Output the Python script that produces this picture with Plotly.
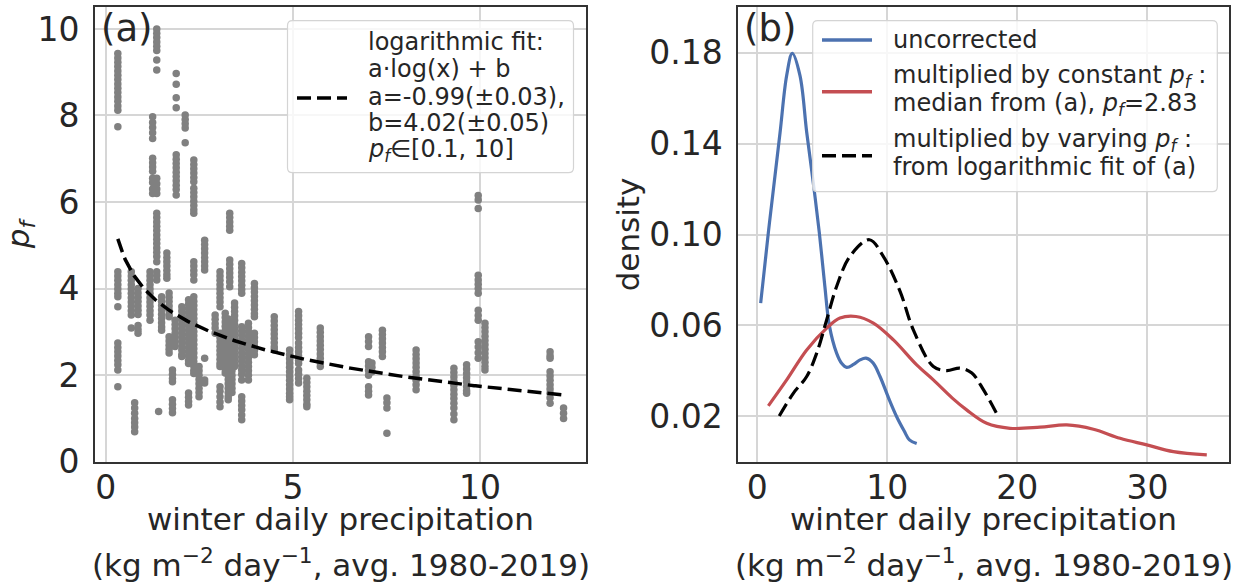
import numpy as np
import plotly.graph_objects as go

W, H = 1241, 585
FONT = "DejaVu Sans"
TXT = "#262626"

# ---- panel (a): precipitation correction factor per station column ----
column_x = [0.32, 0.68, 0.77, 0.86, 1.18, 1.25, 1.36, 1.41, 1.49, 1.63, 1.69, 1.78,
            1.85, 1.88, 2.03, 2.12, 2.21, 2.35, 2.49, 2.64, 2.92, 3.05, 3.19, 3.27,
            3.31, 3.37, 3.44, 3.63, 3.81, 3.97, 4.50, 4.91, 5.15, 5.37, 5.73, 7.02,
            7.11, 7.39, 7.51, 8.29, 9.30, 9.64, 9.95, 10.13, 11.87, 12.23]

column_pf = [
    [9.43, 9.33, 9.23, 9.13, 9.03, 8.93, 8.83, 8.73, 8.63, 8.53, 8.43, 8.33, 8.22, 8.12, 7.74,
     4.39, 4.29, 4.19, 4.09, 3.99, 3.89, 3.81, 3.58, 2.74, 2.64, 2.54, 2.44, 2.34, 2.24, 2.12, 1.73],
    [4.39, 4.29, 4.19, 4.09, 3.99, 3.89, 3.79, 3.69, 3.59, 3.49, 3.39, 3.09],
    [1.36, 1.24, 1.12, 1.0, 0.9, 0.8, 0.69],
    [4.0, 3.9, 3.8, 3.7, 3.6, 3.5, 3.4, 3.15, 3.05, 2.97],
    [4.39, 4.29, 4.19, 4.09, 3.99, 3.89, 3.79, 3.69, 3.59, 3.49, 3.39, 3.27],
    [7.97, 7.84, 7.72, 7.6, 7.47, 7.01, 6.91, 6.81, 6.71, 6.55, 6.45, 6.3, 6.2],
    [10.0, 9.9, 9.8, 9.7, 9.6, 9.5, 9.28, 9.05, 6.55, 6.42, 6.3, 6.2, 5.74, 5.64, 5.54, 5.44,
     5.34, 5.24, 5.14, 5.04, 4.94, 4.84, 4.74, 4.62, 4.39, 4.3, 4.2],
    [1.16],
    [3.81, 3.71, 3.61, 3.51, 3.41, 3.31, 3.21, 3.11, 3.04],
    [4.82, 4.72, 4.62, 4.52, 4.42, 4.32, 4.24],
    [3.9, 3.8, 3.7, 3.6, 3.5, 3.4, 3.35, 2.89, 2.79, 2.69, 2.6, 2.51],
    [2.12, 2.02, 1.92, 1.85, 1.43, 1.33, 1.23, 1.13],
    [3.27, 3.17, 3.07, 2.97, 2.87, 2.77, 2.66],
    [8.97, 8.72, 8.41, 8.18, 7.09, 6.99, 6.89, 6.79, 6.69, 6.59, 6.49, 6.39, 6.29, 6.16],
    [3.58, 3.48, 3.38, 3.28, 3.18, 3.08, 2.98, 2.88, 2.78, 2.68, 2.58, 2.48, 2.43],
    [8.01, 7.91, 7.81, 7.71, 7.37],
    [3.74, 3.64, 3.54, 3.44, 3.34, 3.24, 3.14, 3.04, 2.94, 2.84, 2.74, 2.64, 2.54, 2.44, 2.34,
     2.27, 1.59, 1.49, 1.39, 1.31],
    [6.97, 6.87, 6.77, 6.67, 6.57, 6.47, 6.32, 6.22, 6.12, 6.02, 5.92, 5.82, 5.74, 4.62, 4.52,
     4.42, 4.32, 4.2, 3.81, 3.71, 3.61, 3.51, 3.41, 3.31, 3.21, 3.11, 3.01, 2.91, 2.81, 2.71,
     2.61, 2.51, 2.41, 2.31, 2.21, 2.11, 2.04],
    [2.2, 2.1, 2.0, 1.9, 1.8, 1.7, 1.6, 1.5],
    [5.12, 5.02, 4.92, 4.82, 4.72, 4.62, 4.52, 4.43, 2.39, 1.89, 1.82],
    [3.39, 3.29, 3.19, 3.09, 2.97],
    [4.39, 4.29, 4.19, 4.09, 3.99, 3.89, 3.79, 3.69, 3.58, 2.97, 2.87, 2.77, 2.67, 2.57, 2.47,
     2.37, 2.27, 2.2, 1.73, 1.63, 1.5, 1.38, 1.27],
    [3.43, 3.33, 3.23, 3.13, 3.03, 2.93, 2.83, 2.73, 2.63, 2.53, 2.43, 2.33, 2.23, 2.13, 2.05],
    [3.3, 3.2, 3.1, 3.0, 2.9, 2.8, 2.7, 2.6, 2.5, 2.4, 2.3, 2.2, 2.1, 2.0, 1.9, 1.8, 1.7, 1.6,
     1.5, 1.43],
    [5.74, 5.64, 5.54, 5.44, 5.35, 4.66, 4.56, 4.46, 4.36, 4.26, 4.16, 4.04],
    [3.2, 3.1, 3.0, 2.9, 2.8, 2.7, 2.6, 2.5, 2.4, 2.3, 2.2, 2.1, 2.0, 1.9, 1.8, 1.7, 1.6],
    [3.67, 3.57, 3.47, 3.37, 3.27, 3.17, 3.07, 2.97, 2.87, 2.77, 2.67, 2.57, 2.47, 2.37, 2.27, 2.2],
    [4.58, 4.48, 4.38, 4.28, 4.18, 4.08, 3.98, 3.89, 3.12, 3.02, 2.92, 2.82, 2.72, 2.62, 2.52,
     2.42, 2.32, 2.22, 2.12, 2.02, 1.89, 1.5, 1.4, 1.3, 1.2, 1.08, 0.97],
    [3.2, 3.1, 3.0, 2.9, 2.8, 2.7, 2.6, 2.5, 2.4, 2.3, 2.2, 2.1, 2.0, 1.89],
    [4.12, 4.02, 3.92, 3.82, 3.72, 3.62, 3.52, 3.42, 3.35, 2.97, 2.87, 2.77, 2.67, 2.57, 2.47],
    [3.35, 3.25, 3.15, 3.05, 2.95, 2.85, 2.75, 2.65, 2.58],
    [2.58, 2.48, 2.38, 2.28, 2.18, 2.08, 1.98, 1.88, 1.78, 1.68, 1.58, 1.5, 1.43],
    [3.47, 3.37, 3.27, 3.17, 3.07, 2.97, 2.87, 2.74, 2.64, 2.54, 2.44, 2.34, 2.27, 2.12, 2.02,
     1.92, 1.82],
    [1.93, 1.83, 1.73, 1.63, 1.53, 1.43, 1.33, 1.27],
    [3.09, 2.99, 2.89, 2.79, 2.69, 2.59, 2.49, 2.39, 2.29, 2.2],
    [2.89, 2.78, 2.66, 2.31, 2.21, 2.11, 2.0, 1.73, 1.63, 1.54],
    [2.28, 2.18, 2.08],
    [3.04, 2.94, 2.84, 2.74, 2.64, 2.54, 2.43],
    [1.47, 1.36, 1.24, 0.66],
    [2.58, 2.48, 2.38, 2.28, 2.18, 2.08, 1.98, 1.88, 1.78, 1.66],
    [2.16, 2.06, 1.96, 1.86, 1.76, 1.66, 1.56, 1.46, 1.35, 1.24, 1.1, 0.97],
    [2.24, 2.14, 2.04, 1.94, 1.84, 1.74, 1.64, 1.58],
    [6.15, 6.05, 5.85, 4.31, 4.2, 4.1, 4.0, 3.89, 3.5, 3.38, 3.27, 2.77, 2.65, 2.52, 2.39],
    [3.2, 3.1, 3.0, 2.9, 2.8, 2.7, 2.6, 2.5, 2.4, 2.3, 2.2, 2.12],
    [2.54, 2.45, 2.39, 2.08, 1.98, 1.88, 1.78, 1.68, 1.58, 1.48, 1.35],
    [1.24, 1.12, 1.0],
]

# logarithmic fit coefficients stated in the legend
fit_a, fit_b = -0.99, 4.02

# ---- panel (b): kernel density curves ----
unc_x = [0.26, 0.55, 0.85, 1.2, 1.75, 2.26, 2.69, 3.28, 3.8, 4.3, 4.77, 5.2, 5.54, 6.1,
         6.5, 6.88, 7.4, 7.9, 8.36, 8.9, 9.44, 10.1, 10.72, 11.3, 11.7, 12.26]
unc_y = [0.0698, 0.085, 0.1008, 0.118, 0.1448, 0.170, 0.1797, 0.170, 0.145, 0.123, 0.1008,
         0.077, 0.060, 0.0478, 0.0432, 0.0415, 0.0428, 0.0448, 0.0456, 0.0435, 0.0375, 0.028,
         0.0198, 0.0135, 0.0096, 0.008]

const_x = [0.85, 2.26, 3.8, 5.34, 6.36, 7.59, 8.93, 10.47, 12.26, 13.54, 15.0, 16.1, 17.64,
           19.44, 21.75, 23.8, 25.85, 27.9, 29.95, 32.0, 34.57]
const_y = [0.0246, 0.036, 0.0492, 0.0588, 0.0632, 0.0639, 0.061, 0.0536, 0.0426, 0.036,
           0.028, 0.0228, 0.0169, 0.0147, 0.0152, 0.0162, 0.0143, 0.0103, 0.0074, 0.0044, 0.003]

vary_x = [1.69, 2.77, 3.8, 4.57, 5.34, 6.1, 7.13, 8.62, 9.69, 10.98, 12.0, 13.54, 14.57,
          15.6, 16.5, 17.4, 18.6]
vary_y = [0.0201, 0.0301, 0.0375, 0.0478, 0.0625, 0.0771, 0.0904, 0.0977, 0.0904, 0.0750,
          0.058, 0.0419, 0.0401, 0.0412, 0.039, 0.0316, 0.0191]

BLUE, RED = "#4C72B0", "#C44E52"
DASH = "14px,6px"

fig = go.Figure()

# scatter of correction factors
px_all, pf_all = [], []
for xv, ys in zip(column_x, column_pf):
    px_all += [xv] * len(ys)
    pf_all += ys
fig.add_trace(go.Scatter(x=px_all, y=pf_all, mode="markers",
                         marker=dict(size=7.5, color="#808080", line=dict(width=0)),
                         xaxis="x", yaxis="y", showlegend=False))

# fit curve a*log(x)+b over the data range
fx = np.linspace(min(column_x), max(column_x), 300)
fig.add_trace(go.Scatter(x=fx, y=fit_a * np.log(fx) + fit_b, mode="lines",
                         line=dict(color="black", width=3.5, dash=DASH),
                         xaxis="x", yaxis="y", showlegend=False))

# density curves
for xs, ys, col, dash in [(unc_x, unc_y, BLUE, "solid"),
                          (const_x, const_y, RED, "solid"),
                          (vary_x, vary_y, "black", DASH)]:
    fig.add_trace(go.Scatter(x=xs, y=ys, mode="lines",
                             line=dict(color=col, width=3.2, dash=dash, shape="spline",
                                       smoothing=1.0),
                             xaxis="x2", yaxis="y2", showlegend=False))


def fx_(p):
    return p / W


def fy_(p):
    return 1 - p / H


TICK = 33
LABEL = 31
ydom = [fy_(461.7), fy_(7.3)]
axis_common = dict(showgrid=True, gridcolor="#d6d6d6", gridwidth=1.5, zeroline=False,
                   showline=True, linecolor="#333333", linewidth=2, mirror=True,
                   ticks="", tickfont=dict(size=TICK, color=TXT, family=FONT),
                   title_font=dict(size=LABEL, color=TXT, family=FONT))

fig.update_layout(
    width=W, height=H, template="none",
    margin=dict(l=0, r=0, t=0, b=0),
    paper_bgcolor="white", plot_bgcolor="white",
    font=dict(family=FONT, color=TXT),
    xaxis=dict(domain=[fx_(95), fx_(586)], range=[-0.29, 12.83], tickvals=[0, 5, 10],
               ticklabelstandoff=-4, anchor="y", **axis_common),
    yaxis=dict(domain=ydom, range=[0, 10.5], tickvals=[0, 2, 4, 6, 8, 10],
               ticklabelstandoff=7, title=dict(text="<i>p</i><sub><i>f</i></sub>", standoff=6),
               anchor="x", **axis_common),
    xaxis2=dict(domain=[fx_(738.3), fx_(1229.3)], range=[-1.46, 36.3], tickvals=[0, 10, 20, 30],
                ticklabelstandoff=-4, anchor="y2", **axis_common),
    yaxis2=dict(domain=ydom, range=[0, 0.2], tickvals=[0.02, 0.06, 0.10, 0.14, 0.18],
                ticktext=["0.02", "0.06", "0.10", "0.14", "0.18"],
                ticklabelstandoff=7, title=dict(text="density", standoff=0), anchor="x2",
                **axis_common),
)


def rounded_box(x0, y0, x1, y1, r=5):
    """Rounded rectangle in paper coords from pixel corners."""
    path = (f"M {fx_(x0 + r)} {fy_(y0)} L {fx_(x1 - r)} {fy_(y0)} "
            f"Q {fx_(x1)} {fy_(y0)} {fx_(x1)} {fy_(y0 + r)} "
            f"L {fx_(x1)} {fy_(y1 - r)} Q {fx_(x1)} {fy_(y1)} {fx_(x1 - r)} {fy_(y1)} "
            f"L {fx_(x0 + r)} {fy_(y1)} Q {fx_(x0)} {fy_(y1)} {fx_(x0)} {fy_(y1 - r)} "
            f"L {fx_(x0)} {fy_(y0 + r)} Q {fx_(x0)} {fy_(y0)} {fx_(x0 + r)} {fy_(y0)} Z")
    return dict(type="path", path=path, xref="paper", yref="paper",
                fillcolor="rgba(255,255,255,0.8)", line=dict(color="#d4d4d4", width=1.2),
                layer="above")


def sample(x0, x1, y, color, dash):
    return dict(type="line", xref="paper", yref="paper", x0=fx_(x0), x1=fx_(x1),
                y0=fy_(y), y1=fy_(y), line=dict(color=color, width=3.5, dash=dash),
                layer="above")


LEG = 24
pf = "<i>p</i><sub><i>f</i></sub>"
shapes = [
    rounded_box(287.5, 20.7, 573.5, 172.7),
    sample(297, 347, 98, "black", DASH),
    rounded_box(812.7, 20.7, 1217.3, 191.7),
    sample(822, 872, 40, BLUE, "solid"),
    sample(822, 872, 91.7, RED, "solid"),
    sample(822, 872, 155.7, "black", DASH),
]

legend_lines = [
    (366, 41.7, "logarithmic fit:"),
    (366, 69, "a\u00b7log(x) + b"),
    (366, 96.7, "a=-0.99(\u00b10.03),"),
    (366, 123.3, "b=4.02(\u00b10.05)"),
    (366, 150, pf + "\u2208[0.1, 10]"),
    (891, 40, "uncorrected"),
    (891, 76.7, "multiplied by constant " + pf + " :"),
    (891, 104.3, "median from (a), " + pf + "=2.83"),
    (891, 140, "multiplied by varying " + pf + " :"),
    (891, 166.7, "from logarithmic fit of (a)"),
]

xtitle_1 = "winter daily precipitation"
xtitle_2 = "(kg m<sup>\u22122</sup> day<sup>\u22121</sup>, avg. 1980-2019)"

annotations = []
for x, y, t in legend_lines:
    annotations.append(dict(x=fx_(x), y=fy_(y), xref="paper", yref="paper", text=t,
                            showarrow=False, xanchor="left", yanchor="middle",
                            font=dict(size=LEG, color=TXT, family=FONT)))
for x, t in [(99, "(a)"), (742, "(b)")]:
    annotations.append(dict(x=fx_(x), y=fy_(28), xref="paper", yref="paper", text=t,
                            showarrow=False, xanchor="left", yanchor="middle",
                            font=dict(size=37, color=TXT, family=FONT)))
# two-line x-axis titles, centred under each panel
for cx in [(95 + 586) / 2, (738.3 + 1229.3) / 2]:
    for y, t in [(519, xtitle_1), (563, xtitle_2)]:
        annotations.append(dict(x=fx_(cx), y=fy_(y), xref="paper", yref="paper", text=t,
                                showarrow=False, xanchor="center", yanchor="middle",
                                font=dict(size=LABEL, color=TXT, family=FONT)))

fig.update_layout(shapes=shapes, annotations=annotations)
fig.write_html("out.html")
